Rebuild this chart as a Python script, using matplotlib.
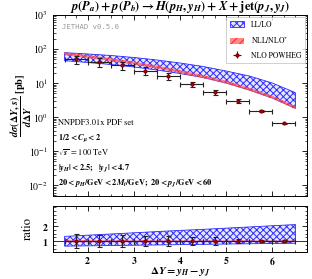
import matplotlib
matplotlib.use("Agg")
import matplotlib.pyplot as plt
import numpy as np
from matplotlib.patches import Patch

plt.rcParams['mathtext.fontset'] = 'custom'
plt.rcParams['mathtext.rm'] = 'STIXGeneral:bold'
plt.rcParams['mathtext.bf'] = 'STIXGeneral:bold'
plt.rcParams['mathtext.it'] = 'STIXGeneral:italic:bold'
plt.rcParams['mathtext.cal'] = 'STIXGeneral:bold'
plt.rcParams['font.family'] = ['STIXGeneral', 'DejaVu Serif']
plt.rcParams['hatch.linewidth'] = 0.7

# ---- data ----
band_x = [1.5, 2.0, 2.5, 3.0, 3.5, 4.0, 4.5, 5.0, 5.5, 6.0, 6.5]
ll_hi = [77.9, 71.3, 64.4, 56.2, 47.5, 38.7, 30.6, 22.5, 16.1, 10.0, 5.19]
ll_lo = [45.3, 40.1, 35.0, 29.6, 24.1, 19.0, 14.5, 10.0, 6.22, 3.62, 1.80]
nll_hi = [80.0, 66.0, 54.0, 42.6, 32.6, 24.0, 17.0, 11.8, 7.3, 4.25, 2.09]
nll_lo = [65.5, 54.1, 44.2, 34.8, 26.6, 19.6, 14.0, 9.6, 6.0, 3.48, 1.71]

pts_x = [1.75, 2.25, 2.75, 3.25, 3.75, 4.25, 4.75, 5.25, 5.75, 6.25]
powheg = [49.8, 41.5, 33.0, 23.0, 16.1, 9.35, 5.4, 2.95, 1.5, 0.65]
powheg_err = [12.5, 11.0, 8.8, 5.8, 4.0, 1.6, 1.0, 0.35, 0.06, 0.02]
bin_half = [0.25] * 10

ratio_ll_hi = [1.32, 1.40, 1.48, 1.56, 1.64, 1.72, 1.79, 1.87, 1.95, 2.03, 2.11]
ratio_ll_lo = [0.67, 0.69, 0.71, 0.73, 0.75, 0.77, 0.79, 0.81, 0.83, 0.85, 0.86]
ratio_nll_hi = [1.07, 1.07, 1.06, 1.06, 1.06, 1.05, 1.05, 1.05, 1.05, 1.05, 1.05]
ratio_nll_lo = [0.93, 0.93, 0.94, 0.94, 0.94, 0.95, 0.95, 0.95, 0.95, 0.95, 0.95]
ratio_pts = [1.0] * 10
ratio_err = [0.47, 0.42, 0.38, 0.33, 0.33, 0.28, 0.25, 0.15, 0.07, 0.06]

fig = plt.figure(figsize=(3.12, 2.79), dpi=100)
ax = fig.add_axes([0.170, 0.2975, 0.814, 0.649])
axr = fig.add_axes([0.170, 0.0968, 0.814, 0.165])

blue = '#2a2aff'
red = '#ff2020'
ll_face = (0.6, 0.6, 1.0, 0.25)
nll_face = (1.0, 0.35, 0.35, 0.7)

# top panel
ax.fill_between(band_x, ll_lo, ll_hi, facecolor=ll_face,
                edgecolor=blue, hatch='xxxxx', linewidth=0.6)
ax.fill_between(band_x, nll_lo, nll_hi, facecolor=nll_face,
                edgecolor=red, hatch='////', linewidth=0.0)
ax.errorbar(pts_x, powheg, xerr=bin_half, yerr=powheg_err, fmt='o', ms=2.0,
            mfc='#cc0000', mec='#880000', ecolor='#222222', elinewidth=0.8,
            capsize=1.8, capthick=0.8)

ax.set_yscale('log')
ax.set_ylim(0.0048, 1000)
ax.set_xlim(1.25, 6.75)
ax.tick_params(which='both', direction='in', top=True, right=True, labelsize=7)
ax.tick_params(which='major', length=3.5, width=0.6)
ax.tick_params(which='minor', length=1.8, width=0.5)
ax.set_xticks([2, 3, 4, 5, 6])
ax.set_xticks(np.arange(1.5, 6.75, 0.25), minor=True)
ax.tick_params(axis='x', labelbottom=False)
ax.set_title(r'$p(P_a) + p(P_b) \rightarrow H(p_H, y_H) + X + \mathrm{jet}(p_J, y_J)$',
             fontsize=9, pad=2)
ax.set_ylabel(r'$\dfrac{d\sigma(\Delta Y, s)}{d\Delta Y}\ [\mathrm{pb}]$', fontsize=7.5)
ax.yaxis.set_label_coords(-0.075, 0.5)

ax.text(0.035, 0.935, 'JETHAD v0.5.0', transform=ax.transAxes, fontsize=5.2,
        family='DejaVu Sans Mono', color='#999999', va='center')
tx = 0.02
fs = 6.0
ax.text(tx, 0.405, 'NNPDF3.01x PDF set', transform=ax.transAxes, fontsize=fs, va='center')
ax.text(tx, 0.32, r'$1/2 < C_\mu < 2$', transform=ax.transAxes, fontsize=fs, va='center')
ax.text(tx, 0.238, r'$\sqrt{s}$ = 100 TeV', transform=ax.transAxes, fontsize=fs, va='center')
ax.text(tx, 0.155, r'$|y_H| < 2.5;\ \ |y_J| < 4.7$', transform=ax.transAxes, fontsize=fs, va='center')
ax.text(tx, 0.07, r'$20 < p_H/\mathrm{GeV} < 2M_t/\mathrm{GeV};\ 20 < p_J/\mathrm{GeV} < 60$',
        transform=ax.transAxes, fontsize=fs, va='center')

h1 = Patch(facecolor=ll_face, edgecolor=blue, hatch='xxxxx', linewidth=0.6)
h2 = Patch(facecolor=nll_face, edgecolor=red, hatch='////', linewidth=0.0)
h3 = ax.errorbar([], [], xerr=[], yerr=[], fmt='o', ms=2.0, mfc='#cc0000', mec='#880000',
                 ecolor='#222222', elinewidth=0.8, capsize=1.8, capthick=0.8)
leg = ax.legend([h1, h2, h3], ['LL/LO', r'NLL/NLO$^{*}$', 'NLO POWHEG'], loc='upper right',
                fontsize=5.5, frameon=True, fancybox=False, edgecolor='#bbbbbb',
                borderpad=0.5, labelspacing=0.75, handlelength=1.9, handleheight=0.9,
                handletextpad=0.9, borderaxespad=0.25)
leg.get_frame().set_linewidth(0.6)

# ratio panel
axr.fill_between(band_x, ratio_ll_lo, ratio_ll_hi, facecolor=ll_face,
                 edgecolor=blue, hatch='xxxxx', linewidth=0.6)
axr.fill_between(band_x, ratio_nll_lo, ratio_nll_hi, facecolor=nll_face,
                 edgecolor=red, hatch='////', linewidth=0.0)
axr.axhline(1.0, color='#333333', lw=0.7)
axr.errorbar(pts_x, ratio_pts, xerr=bin_half, yerr=ratio_err, fmt='o', ms=2.0,
             mfc='#cc0000', mec='#880000', ecolor='#222222', elinewidth=0.8,
             capsize=1.8, capthick=0.8)
axr.set_xlim(1.25, 6.75)
axr.set_ylim(0.28, 3.35)
axr.set_yticks([1, 2])
axr.set_yticks(np.arange(0.5, 3.3, 0.25), minor=True)
axr.set_xticks([2, 3, 4, 5, 6])
axr.set_xticklabels([r'$2$', r'$3$', r'$4$', r'$5$', r'$6$'])
axr.set_yticklabels([r'$1$', r'$2$'])
axr.set_xticks(np.arange(1.5, 6.75, 0.25), minor=True)
axr.tick_params(which='both', direction='in', top=True, right=True, labelsize=7)
axr.tick_params(which='major', length=3.5, width=0.6)
axr.tick_params(which='minor', length=1.8, width=0.5)
axr.tick_params(axis='x', which='major', pad=2)
axr.set_ylabel('ratio', fontsize=9)
axr.yaxis.set_label_coords(-0.075, 0.5)
axr.set_xlabel(r'$\Delta Y = y_H - y_J$', fontsize=8)
axr.xaxis.set_label_coords(0.5, -0.30)

for a in (ax, axr):
    for s in a.spines.values():
        s.set_linewidth(0.7)

fig.savefig('out.png', dpi=100)
